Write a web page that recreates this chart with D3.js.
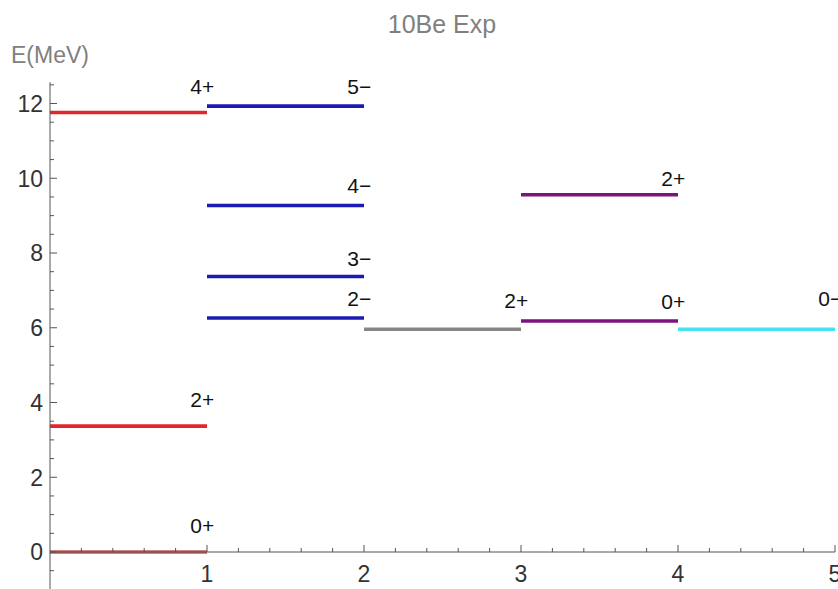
<!DOCTYPE html>
<html>
<head>
<meta charset="utf-8">
<script src="https://cdn.jsdelivr.net/npm/d3@7"></script>
<style>
  html, body { margin: 0; padding: 0; background: #fff; }
  svg { display: block; font-family: "Liberation Sans", Arial, sans-serif; }
</style>
</head>
<body>
<svg id="chart" width="838" height="589"></svg>
<script>
// 10Be experimental level scheme: each level is a horizontal bar spanning one column.
const columnStart = [0, 0, 0, 1, 1, 1, 1, 2, 3, 3, 4];
const energies    = [0, 3.368, 11.76, 11.93, 9.27, 7.37, 6.26, 5.96, 6.18, 9.56, 5.96];
const spins       = ["0+", "2+", "4+", "5\u2212", "4\u2212", "3\u2212", "2\u2212", "2+", "0+", "2+", "0\u2212"];
const labelY      = [0.72, 4.09, 12.46, 12.46, 9.81, 7.86, 6.79, 6.74, 6.71, 10.0, 6.79];
const levelColors = ["#c45a5a", "#e3262a", "#e3262a", "#1b1bb3", "#1b1bb3", "#1b1bb3", "#1b1bb3",
                     "#858585", "#7d147d", "#7d147d", "#45e2ef"];
const xTicks = [1, 2, 3, 4, 5];
const yTicks = [0, 2, 4, 6, 8, 10, 12];

const svg = d3.select("#chart");
const x = d3.scaleLinear().domain([0, 5]).range([50, 835]);
const y = d3.scaleLinear().domain([0, 12]).range([552, 103.5]);
const yTop = 12.57, yBottom = -0.99;

const tickColor = "#555";

// level bars
svg.append("g").selectAll("line")
  .data(energies)
  .join("line")
  .attr("x1", (d, i) => x(columnStart[i]))
  .attr("x2", (d, i) => x(columnStart[i] + 1))
  .attr("y1", d => y(d))
  .attr("y2", d => y(d))
  .attr("stroke", (d, i) => levelColors[i])
  .attr("stroke-width", 3.6);

// x axis along E = 0, ticks pointing up
const xAxis = svg.append("g").attr("transform", `translate(0,${y(0)})`);
xAxis.append("line").attr("x1", x(0)).attr("x2", x(5)).attr("stroke", tickColor).attr("stroke-width", 1);
const xMinor = d3.range(0, 5.001, 0.2).filter(v => Math.abs(v - Math.round(v)) > 1e-6);
xAxis.selectAll(".xminor").data(xMinor).join("line")
  .attr("x1", d => x(d)).attr("x2", d => x(d)).attr("y1", 0).attr("y2", -4)
  .attr("stroke", tickColor).attr("stroke-width", 1);
xAxis.selectAll(".xmajor").data(xTicks).join("line")
  .attr("x1", d => x(d)).attr("x2", d => x(d)).attr("y1", 0).attr("y2", -7)
  .attr("stroke", tickColor).attr("stroke-width", 1);
xAxis.selectAll("text").data(xTicks).join("text")
  .attr("x", d => x(d)).attr("y", 30)
  .attr("text-anchor", "middle")
  .attr("font-size", 23).attr("fill", "#333")
  .text(d => d);

// y axis, ticks pointing right
const yAxis = svg.append("g").attr("transform", `translate(${x(0)},0)`);
yAxis.append("line").attr("y1", y(yTop)).attr("y2", y(yBottom)).attr("stroke", tickColor).attr("stroke-width", 1);
const yMinor = d3.range(-0.5, 12.6, 0.5).filter(v => Math.abs(v / 2 - Math.round(v / 2)) > 1e-6);
yAxis.selectAll(".yminor").data(yMinor).join("line")
  .attr("y1", d => y(d)).attr("y2", d => y(d)).attr("x1", 0).attr("x2", 4)
  .attr("stroke", tickColor).attr("stroke-width", 1);
yAxis.selectAll(".ymajor").data(yTicks).join("line")
  .attr("y1", d => y(d)).attr("y2", d => y(d)).attr("x1", 0).attr("x2", 7)
  .attr("stroke", tickColor).attr("stroke-width", 1);
yAxis.selectAll("text").data(yTicks).join("text")
  .attr("x", -7).attr("y", d => y(d)).attr("dy", "0.36em")
  .attr("text-anchor", "end")
  .attr("font-size", 23).attr("fill", "#333")
  .text(d => d);

// spin-parity labels near the right end of each bar
svg.append("g").selectAll("text")
  .data(spins)
  .join("text")
  .attr("x", (d, i) => x(columnStart[i] + 1 - 0.03))
  .attr("y", (d, i) => y(labelY[i]))
  .attr("dy", "0.36em")
  .attr("text-anchor", "middle")
  .attr("font-size", 21).attr("fill", "#111")
  .text(d => d);

// title and axis label
svg.append("text").attr("x", 442).attr("y", 33).attr("text-anchor", "middle")
  .attr("font-size", 25).attr("fill", "#808080").text("10Be Exp");
svg.append("text").attr("x", 11).attr("y", 63)
  .attr("font-size", 23).attr("fill", "#808080").text("E(MeV)");
</script>
</body>
</html>
